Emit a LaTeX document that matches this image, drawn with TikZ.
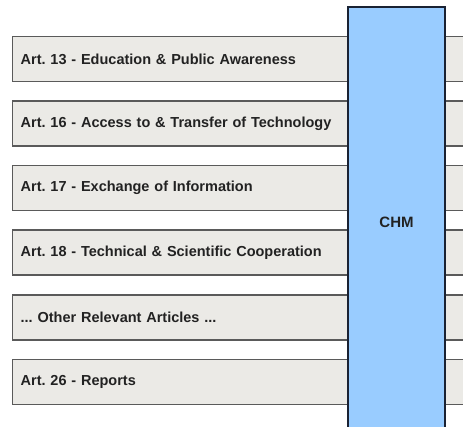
\documentclass[tikz,border=0pt]{standalone}
\usepackage{fontspec}
\setmainfont{Liberation Sans}
\frenchspacing
\definecolor{artfill}{HTML}{EBEAE6}
\definecolor{artline}{HTML}{5A5A5A}
\definecolor{chmfill}{HTML}{99CCFF}
\definecolor{chmline}{HTML}{1A2233}
\definecolor{txt}{HTML}{222222}
\tikzset{
  artbox/.style={draw=artline, line width=1.3pt, fill=artfill, anchor=north west,
    minimum height=45pt, text width=462pt, inner xsep=8pt, align=left,
    font=\bfseries\fontsize{14.5}{17}\selectfont, text=txt},
  chmbox/.style={draw=chmline, line width=1.8pt, fill=chmfill,
    minimum width=97pt, minimum height=430pt,
    font=\bfseries\fontsize{15}{17}\selectfont, text=txt}
}
\begin{document}
\begin{tikzpicture}[x=1pt,y=-1pt]
\useasboundingbox (0,0) rectangle (463,427);
\clip (0,0) rectangle (463,427);
\fill[white] (0,0) rectangle (463,427);
\node[artbox] (art13) at (12,36) {Art. 13 - Education \& Public Awareness};
\node[artbox] (art16) at (12,100.5) {Art. 16 - Access to \& Transfer of Technology};
\node[artbox] (art17) at (12,165) {Art. 17 - Exchange of Information};
\node[artbox] (art18) at (12,229.5) {Art. 18 - Technical \& Scientific Cooperation};
\node[artbox] (other) at (12,294.5) {... Other Relevant Articles ...};
\node[artbox] (art26) at (12,359) {Art. 26 - Reports};
\node[chmbox] (chm) at (396.5,222) {CHM};
\end{tikzpicture}
\end{document}
